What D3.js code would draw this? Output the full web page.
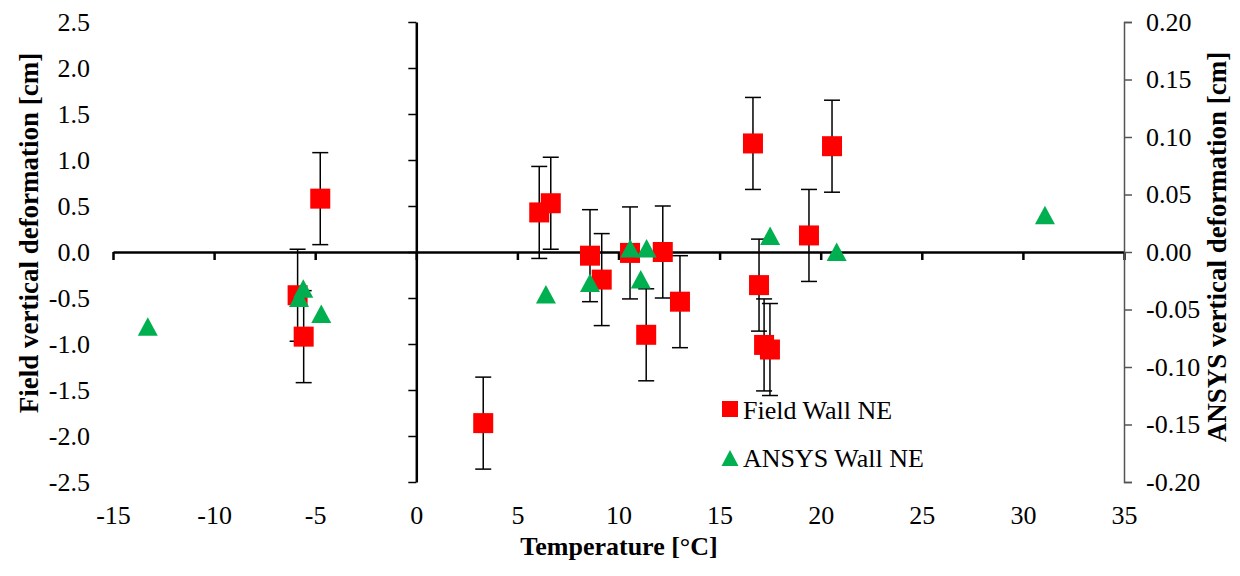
<!DOCTYPE html>
<html>
<head>
<meta charset="utf-8">
<script src="https://cdn.jsdelivr.net/npm/d3@7"></script>
<style>
  body { margin: 0; background: #fff; }
  svg text { font-family: "Liberation Serif", "Times New Roman", serif !important; }
</style>
</head>
<body>
<svg width="1240" height="576"></svg>
<script>
// field measurements (red squares) with +/- error
var fieldTemp = [-5.87, -5.57, -4.75, 3.31, 6.08, 6.65, 8.59, 9.17, 10.57, 11.37, 12.19, 13.04, 16.65, 16.95, 17.2, 17.49, 19.42, 20.56];
var fieldDef  = [-0.47, -0.92, 0.58, -1.86, 0.43, 0.53, -0.04, -0.30, -0.01, -0.90, 0.00, -0.54, 1.18, -0.36, -1.01, -1.06, 0.18, 1.15];
var fieldErr  = [0.5, 0.5, 0.5, 0.5, 0.5, 0.5, 0.5, 0.5, 0.5, 0.5, 0.5, 0.5, 0.5, 0.5, 0.5, 0.5, 0.5, 0.5];

// ANSYS results (green triangles), right axis
var ansysTemp = [-13.28, -5.8, -5.59, -4.7, 6.41, 8.59, 10.58, 11.1, 11.39, 17.5, 20.79, 31.09];
var ansysDef  = [-0.065, -0.040, -0.032, -0.054, -0.037, -0.027, 0.003, -0.024, 0.003, 0.014, 0.000, 0.032];

var xTicks = [-15, -10, -5, 0, 5, 10, 15, 20, 25, 30, 35];
var leftTicks = [-2.5, -2.0, -1.5, -1.0, -0.5, 0.0, 0.5, 1.0, 1.5, 2.0, 2.5];
var rightTicks = [-0.20, -0.15, -0.10, -0.05, 0.00, 0.05, 0.10, 0.15, 0.20];

var seriesNames = ["Field Wall NE", "ANSYS Wall NE"];
var colors = ["#ff0000", "#00b050"];

function drawChart()
{
    var svg = d3.select("svg");
    var top = 22, bottom = 482, left = 113, right = 1124;

    var xScale = d3.scaleLinear().domain([-15, 35]).range([left, right]);
    var yScale = d3.scaleLinear().domain([-2.5, 2.5]).range([bottom, top]);
    var zScale = d3.scaleLinear().domain([-0.2, 0.2]).range([bottom, top]);

    var x0 = xScale(0), y0 = yScale(0);

    // horizontal axis through y = 0, labels pushed to the bottom
    var xAxis = svg.append("g")
        .attr("transform", "translate(0," + y0 + ")")
        .call(d3.axisBottom(xScale).tickValues(xTicks).tickFormat(d3.format("d"))
              .tickSize(8).tickSizeOuter(0));
    xAxis.attr("font-size", 26);
    xAxis.select(".domain").attr("stroke", "#000").attr("stroke-width", 2.5);
    xAxis.selectAll(".tick line").attr("stroke", "#000").attr("stroke-width", 2.5);
    xAxis.selectAll("text")
        .attr("y", bottom - y0 + 24)
        .attr("dy", "0.71em")
        .attr("fill", "#000")
        .text(function (d) { return d < 0 ? "-" + Math.abs(d) : d; });

    // left axis through x = 0, labels pushed to the left edge
    var yAxis = svg.append("g")
        .attr("transform", "translate(" + x0 + ",0)")
        .call(d3.axisLeft(yScale).tickValues(leftTicks).tickSize(8).tickSizeOuter(0));
    yAxis.attr("font-size", 26);
    yAxis.select(".domain").attr("stroke", "#000").attr("stroke-width", 2.5);
    yAxis.selectAll(".tick line").attr("stroke", "#000").attr("stroke-width", 1.5);
    yAxis.selectAll("text")
        .attr("x", 90 - x0)
        .attr("fill", "#000")
        .text(function (d) { var s = d3.format(".1f")(Math.abs(d)); return d < 0 ? "-" + s : s; });

    // right axis
    var zAxis = svg.append("g")
        .attr("transform", "translate(" + right + ",0)")
        .call(d3.axisRight(zScale).tickValues(rightTicks).tickSize(8).tickSizeOuter(8));
    zAxis.attr("font-size", 26);
    zAxis.select(".domain").attr("stroke", "#555").attr("stroke-width", 1.5);
    zAxis.selectAll(".tick line").attr("stroke", "#555").attr("stroke-width", 1.5);
    zAxis.selectAll("text")
        .attr("x", 22)
        .attr("fill", "#000")
        .text(function (d) { var s = d3.format(".2f")(Math.abs(d)); return d < 0 ? "-" + s : s; });

    // error bars for the field series
    var chart = svg.append("g");
    var bars = chart.selectAll(".err")
        .data(fieldTemp.map(function (t, i) { return {t: t, v: fieldDef[i], e: fieldErr[i]}; }))
        .enter().append("g")
        .attr("stroke", "#000")
        .attr("stroke-width", 1.5);
    bars.append("line")
        .attr("x1", function (d) { return xScale(d.t); })
        .attr("x2", function (d) { return xScale(d.t); })
        .attr("y1", function (d) { return yScale(d.v + d.e); })
        .attr("y2", function (d) { return yScale(d.v - d.e); });
    bars.append("line")
        .attr("x1", function (d) { return xScale(d.t) - 8; })
        .attr("x2", function (d) { return xScale(d.t) + 8; })
        .attr("y1", function (d) { return yScale(d.v + d.e); })
        .attr("y2", function (d) { return yScale(d.v + d.e); });
    bars.append("line")
        .attr("x1", function (d) { return xScale(d.t) - 8; })
        .attr("x2", function (d) { return xScale(d.t) + 8; })
        .attr("y1", function (d) { return yScale(d.v - d.e); })
        .attr("y2", function (d) { return yScale(d.v - d.e); });

    // red squares
    chart.selectAll(".sq")
        .data(fieldTemp)
        .enter().append("rect")
        .attr("x", function (d) { return xScale(d) - 10; })
        .attr("y", function (d, i) { return yScale(fieldDef[i]) - 10; })
        .attr("width", 20)
        .attr("height", 20)
        .attr("fill", colors[0]);

    // green triangles
    var tri = "M0,-9.5L10,9L-10,9Z";
    chart.selectAll(".tri")
        .data(ansysTemp)
        .enter().append("path")
        .attr("d", tri)
        .attr("transform", function (d, i) { return "translate(" + xScale(d) + "," + zScale(ansysDef[i]) + ")"; })
        .attr("fill", colors[1]);

    // legend
    var legend = svg.append("g").attr("font-size", 26);
    legend.append("rect").attr("x", 722).attr("y", 401).attr("width", 16).attr("height", 16).attr("fill", colors[0]);
    legend.append("path").attr("d", "M730,450L738.5,466L721.5,466Z").attr("fill", colors[1]);
    legend.append("text").attr("x", 743).attr("y", 419).text(seriesNames[0]);
    legend.append("text").attr("x", 743).attr("y", 467).text(seriesNames[1]);

    // axis titles
    svg.append("text")
        .attr("x", 619).attr("y", 555)
        .attr("text-anchor", "middle")
        .attr("font-size", 26).attr("font-weight", "bold")
        .text("Temperature [°C]");
    svg.append("text")
        .attr("transform", "translate(38,233) rotate(-90)")
        .attr("text-anchor", "middle")
        .attr("font-size", 27).attr("font-weight", "bold")
        .text("Field vertical deformation [cm]");
    svg.append("text")
        .attr("transform", "translate(1226,247) rotate(-90)")
        .attr("text-anchor", "middle")
        .attr("font-size", 27).attr("font-weight", "bold")
        .text("ANSYS vertical deformation [cm]");
}

drawChart();
</script>
</body>
</html>
